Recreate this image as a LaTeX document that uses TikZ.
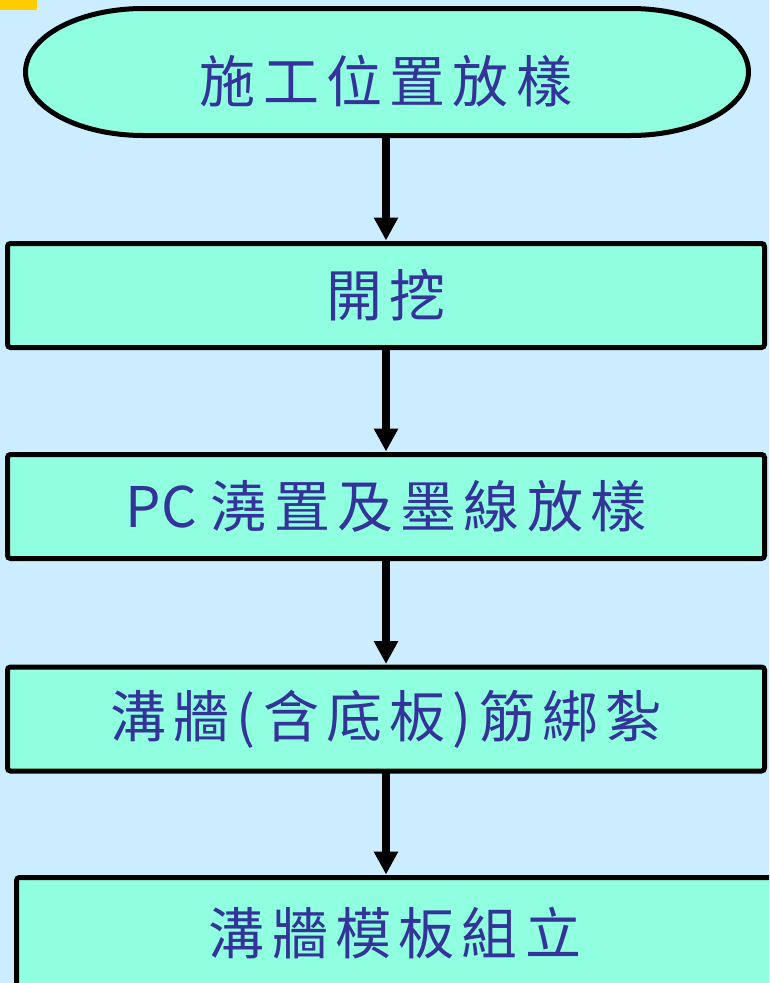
\documentclass[tikz,border=0pt]{standalone}
\usepackage{fontspec}
\newfontfamily\cjk{Noto Sans CJK TC}[LetterSpace=13]
\newfontfamily\latinsans{Noto Sans CJK TC}
\usetikzlibrary{arrows.meta}
\definecolor{bgblue}{HTML}{CCECFF}
\definecolor{boxfill}{HTML}{8FFFE0}
\definecolor{txt}{HTML}{333399}
\definecolor{ylw}{HTML}{FFCC00}
\tikzset{
  stepbox/.style={draw=black, line width=5pt, fill=boxfill, rounded corners=3pt,
    minimum width=757pt, minimum height=104pt, inner sep=0pt, outer sep=0pt,
    text=txt, font=\cjk\fontsize{56pt}{62pt}\selectfont},
  lbl/.style={text=txt, font=\cjk\fontsize{56pt}{62pt}\selectfont, inner sep=0pt},
  flow/.style={line width=8pt, -{Triangle[width=23pt,length=23pt]}, shorten >=3pt}
}
\begin{document}
\begin{tikzpicture}[x=1pt,y=-1pt]
\useasboundingbox (0,0) rectangle (769,983);
\clip (0,0) rectangle (769,983);
\fill[bgblue] (0,0) rectangle (769,983);
\fill[ylw] (0,0) rectangle (37,10);
% start terminal (stadium with elliptical caps)
\draw[line width=5pt, fill=boxfill] (143.5,8.5) -- (630.5,8.5)
  arc[start angle=-90, end angle=90, x radius=118, y radius=63.5]
  -- (143.5,135.5)
  arc[start angle=90, end angle=270, x radius=118, y radius=63.5] -- cycle;
\node[lbl] (n1) at (386,81) {施工位置放樣};
\coordinate (n1b) at (386,138);
\node[stepbox] (n2) at (386,295.5) {開挖};
\node[stepbox] (n3) at (386,506.5) {{\latinsans\fontsize{56pt}{62pt}\selectfont PC}\hspace{14pt}澆置及墨線放樣};
\node[stepbox] (n4) at (386,719) {溝牆(含底板)筋綁紮};
\node[stepbox, minimum height=112pt] (n5) at (395,933.5) {溝牆模板組立};
\draw[flow] (n1b) -- (n2.north);
\draw[flow] (n2) -- (n3);
\draw[flow] (n3) -- (n4);
\draw[flow] (n4.south) -- (n4.south |- n5.north);
\end{tikzpicture}
\end{document}
